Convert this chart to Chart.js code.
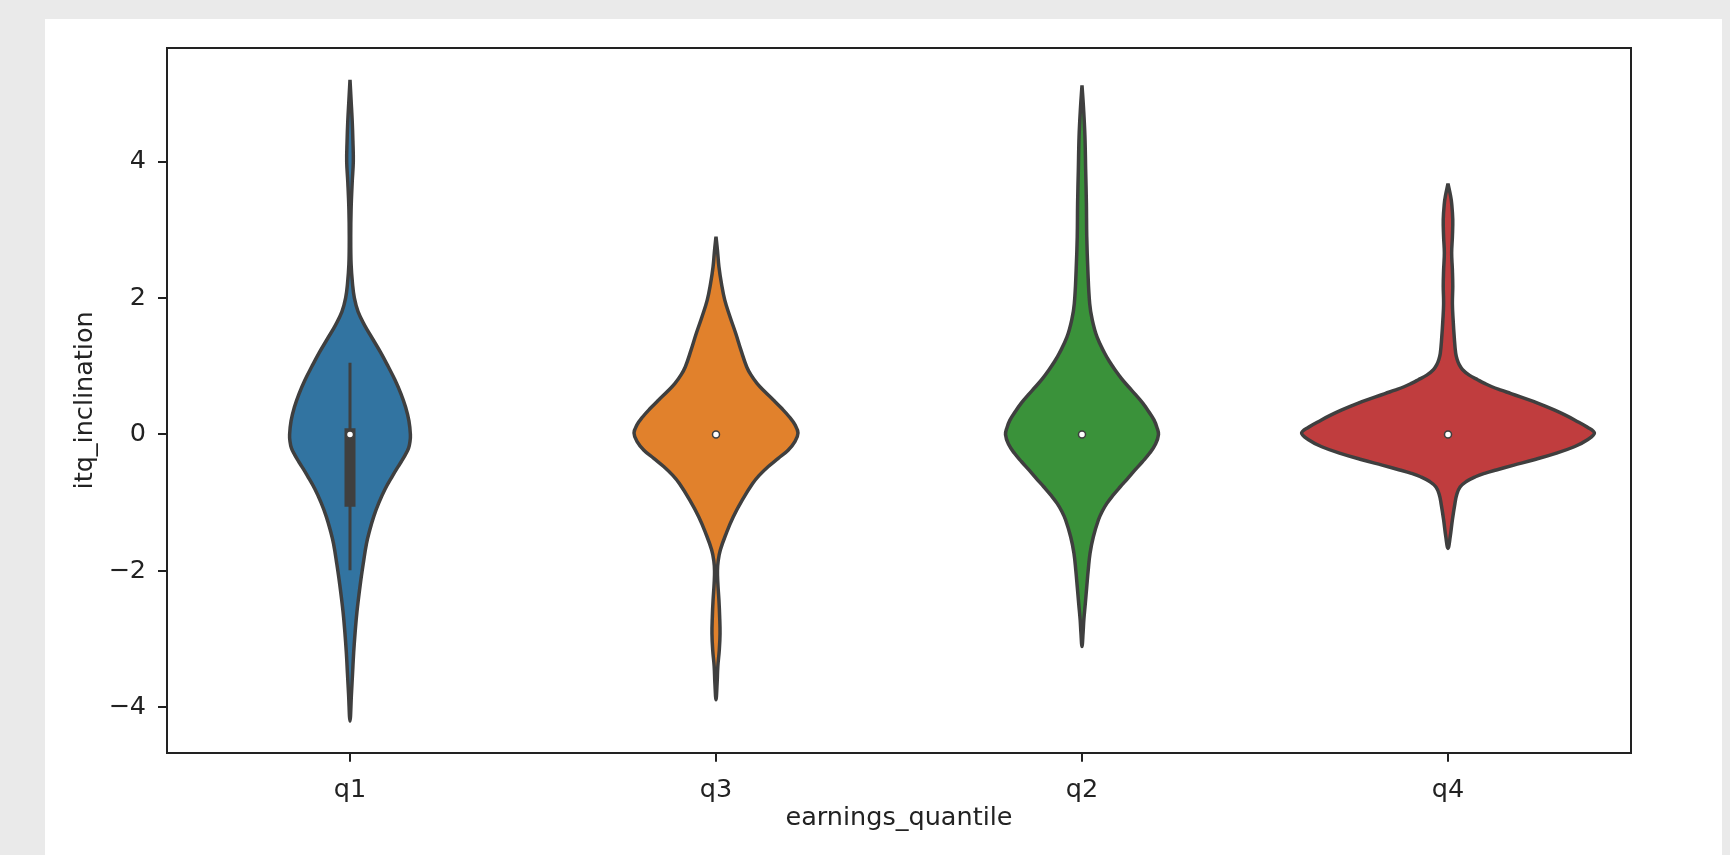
<!DOCTYPE html>
<html>
<head>
<meta charset="utf-8">
<script src="https://cdn.jsdelivr.net/npm/chart.js@4.4.1/dist/chart.umd.min.js"></script>
<style>
  html, body { margin: 0; padding: 0; background: #eaeaea; overflow: hidden; }
  #card { position: absolute; left: 45px; top: 19px; width: 1677px; height: 836px; background: #fff; }
  #chart { position: absolute; left: 0; top: 0; }
</style>
</head>
<body>
<div id="card"></div>
<canvas id="chart" width="1730" height="855"></canvas>
<script>
// categories in the order they appear on the x axis
const categories = ["q1", "q3", "q2", "q4"];
const yTicks = [-4, -2, 0, 2, 4];

// violin outlines: value levels (top to bottom) and half width in category units
const q1Levels = [5.2, 4.9, 4.6, 4.3, 4.0, 3.7, 3.3, 2.9, 2.5, 2.2, 2.0, 1.8, 1.6, 1.4, 1.2, 1.0, 0.8, 0.6, 0.4, 0.2, 0.0, -0.1, -0.2, -0.3, -0.4, -0.5, -0.6, -0.8, -1.0, -1.2, -1.4, -1.6, -1.9, -2.2, -2.6, -2.9, -3.2, -3.5, -3.8, -4.2];
const q1Half = [0, 0.003, 0.006, 0.008, 0.009, 0.006, 0.003, 0.002, 0.003, 0.007, 0.012, 0.022, 0.040, 0.062, 0.084, 0.104, 0.123, 0.139, 0.152, 0.161, 0.165, 0.164, 0.160, 0.151, 0.140, 0.128, 0.117, 0.096, 0.079, 0.065, 0.054, 0.045, 0.036, 0.028, 0.019, 0.014, 0.010, 0.007, 0.004, 0];

const q3Levels = [2.9, 2.7, 2.46, 2.21, 1.97, 1.73, 1.48, 1.24, 0.99, 0.87, 0.75, 0.63, 0.51, 0.38, 0.26, 0.14, 0.02, -0.1, -0.23, -0.35, -0.47, -0.6, -0.72, -0.96, -1.21, -1.45, -1.69, -1.85, -2.0, -2.18, -2.43, -2.67, -2.92, -3.16, -3.40, -3.65, -3.89];
const q3Half = [0, 0.004, 0.008, 0.015, 0.024, 0.038, 0.054, 0.068, 0.084, 0.096, 0.112, 0.133, 0.156, 0.180, 0.200, 0.216, 0.224, 0.216, 0.197, 0.170, 0.143, 0.118, 0.100, 0.072, 0.047, 0.028, 0.012, 0.006, 0.004, 0.005, 0.008, 0.010, 0.011, 0.009, 0.005, 0.003, 0];

const q2Levels = [5.12, 4.8, 4.37, 3.88, 3.39, 2.90, 2.41, 1.92, 1.68, 1.43, 1.19, 1.07, 0.95, 0.82, 0.70, 0.58, 0.46, 0.33, 0.21, 0.1, 0.0, -0.14, -0.28, -0.4, -0.52, -0.65, -0.77, -0.89, -1.01, -1.13, -1.25, -1.50, -1.74, -1.99, -2.23, -2.48, -2.72, -2.9, -3.11];
const q2Half = [0, 0.004, 0.008, 0.010, 0.012, 0.013, 0.016, 0.021, 0.028, 0.041, 0.062, 0.075, 0.090, 0.108, 0.127, 0.147, 0.166, 0.183, 0.197, 0.205, 0.209, 0.201, 0.184, 0.165, 0.145, 0.124, 0.104, 0.085, 0.068, 0.055, 0.045, 0.031, 0.022, 0.017, 0.013, 0.009, 0.005, 0.003, 0];

const q4Levels = [3.68, 3.5, 3.39, 3.15, 2.90, 2.66, 2.41, 2.17, 1.92, 1.68, 1.43, 1.19, 1.1, 1.02, 0.95, 0.87, 0.80, 0.75, 0.70, 0.65, 0.60, 0.55, 0.46, 0.36, 0.28, 0.21, 0.11, 0.02, -0.08, -0.18, -0.28, -0.37, -0.45, -0.52, -0.57, -0.62, -0.69, -0.77, -0.88, -1.01, -1.25, -1.50, -1.67];
const q4Half = [0, 0.007, 0.010, 0.013, 0.012, 0.010, 0.012, 0.013, 0.012, 0.014, 0.017, 0.021, 0.025, 0.031, 0.040, 0.058, 0.082, 0.100, 0.120, 0.145, 0.172, 0.198, 0.245, 0.290, 0.322, 0.347, 0.380, 0.400, 0.380, 0.345, 0.292, 0.235, 0.180, 0.132, 0.100, 0.075, 0.050, 0.033, 0.024, 0.019, 0.012, 0.006, 0];

// inner box: quartiles, whiskers, medians
const medians = [0, 0, 0, 0];
const boxLow = [-1.06, 0, 0, 0];
const boxHigh = [0.09, 0, 0, 0];
const whiskerLow = [-1.99, 0, 0, 0];
const whiskerHigh = [1.05, 0, 0, 0];

const colors = ["#3274a1", "#e1812c", "#3a923a", "#c03d3e"];
const edge = "#3f3f3f";
const ink = "#222222";
const font = "'DejaVu Sans', 'Liberation Sans', sans-serif";

const shapes = [[q1Levels, q1Half], [q3Levels, q3Half], [q2Levels, q2Half], [q4Levels, q4Half]];

// closed outline: right side top -> bottom, then left side back up
function outline(i, levels, half) {
  const right = levels.map((v, k) => ({ x: i + half[k], y: v }));
  const left = levels.slice(0, -1).map((v, k) => ({ x: i - half[k], y: v })).reverse();
  return right.concat(left);
}

const datasets = [];

shapes.forEach(([levels, half], i) => {
  datasets.push({
    data: outline(i, levels, half),
    showLine: true,
    fill: "shape",
    backgroundColor: colors[i],
    borderColor: edge,
    borderWidth: 3.5,
    borderJoinStyle: "round",
    tension: 0.4,
    pointRadius: 0,
    pointHoverRadius: 0,
    order: 3
  });
});

categories.forEach((c, i) => {
  datasets.push({
    data: [{ x: i, y: whiskerLow[i] }, { x: i, y: whiskerHigh[i] }],
    showLine: true,
    borderColor: edge,
    borderWidth: 3,
    borderCapStyle: "butt",
    pointRadius: 0,
    pointHoverRadius: 0,
    order: 2
  });
  datasets.push({
    data: [{ x: i, y: boxLow[i] }, { x: i, y: boxHigh[i] }],
    showLine: true,
    borderColor: edge,
    borderWidth: 11,
    borderCapStyle: "butt",
    pointRadius: 0,
    pointHoverRadius: 0,
    order: 1
  });
});

datasets.push({
  data: medians.map((m, i) => ({ x: i, y: m })),
  showLine: false,
  pointRadius: 3.5,
  pointHoverRadius: 3.5,
  pointBackgroundColor: "#ffffff",
  pointBorderColor: edge,
  pointBorderWidth: 1.5,
  order: 0
});

const minusSign = v => (v < 0 ? "\u2212" + Math.abs(v) : String(v));

new Chart(document.getElementById("chart"), {
  type: "scatter",
  data: { datasets },
  options: {
    responsive: false,
    animation: false,
    events: [],
    layout: { padding: { left: 70, top: 48, right: 99, bottom: 21 } },
    plugins: { legend: { display: false }, tooltip: { enabled: false } },
    scales: {
      x: {
        type: "linear",
        position: "bottom",
        min: -0.5,
        max: 3.5,
        afterBuildTicks: s => { s.ticks = categories.map((c, i) => ({ value: i })); },
        afterFit: s => { s.height = 81.3; },
        ticks: {
          autoSkip: false,
          maxRotation: 0,
          padding: 13,
          color: ink,
          font: { family: font, size: 25.5 },
          callback: v => categories[Math.round(v)]
        },
        grid: { display: true, drawOnChartArea: false, drawTicks: true, tickLength: 9, lineWidth: 2, color: ink },
        border: { display: true, color: ink, width: 2 },
        title: { display: true, text: "earnings_quantile", color: ink, padding: 0, font: { family: font, size: 25.5 } }
      },
      y: {
        type: "linear",
        position: "left",
        min: -4.666,
        max: 5.667,
        afterBuildTicks: s => { s.ticks = yTicks.map(v => ({ value: v })); },
        afterFit: s => { s.width = 97; },
        ticks: {
          padding: 12,
          color: ink,
          font: { family: font, size: 25.5 },
          callback: v => minusSign(v)
        },
        grid: { display: true, drawOnChartArea: false, drawTicks: true, tickLength: 9, lineWidth: 2, color: ink },
        border: { display: true, color: ink, width: 2 },
        title: { display: true, text: "itq_inclination", color: ink, padding: 0, font: { family: font, size: 25.5 } }
      },
      xTop: {
        type: "linear",
        position: "top",
        min: -0.5,
        max: 3.5,
        afterFit: s => { s.height = 0; },
        ticks: { display: false },
        grid: { display: false },
        border: { display: true, color: ink, width: 2 }
      },
      yRight: {
        type: "linear",
        position: "right",
        min: -4.666,
        max: 5.667,
        afterFit: s => { s.width = 0; },
        ticks: { display: false },
        grid: { display: false },
        border: { display: true, color: ink, width: 2 }
      }
    }
  }
});
</script>
</body>
</html>
